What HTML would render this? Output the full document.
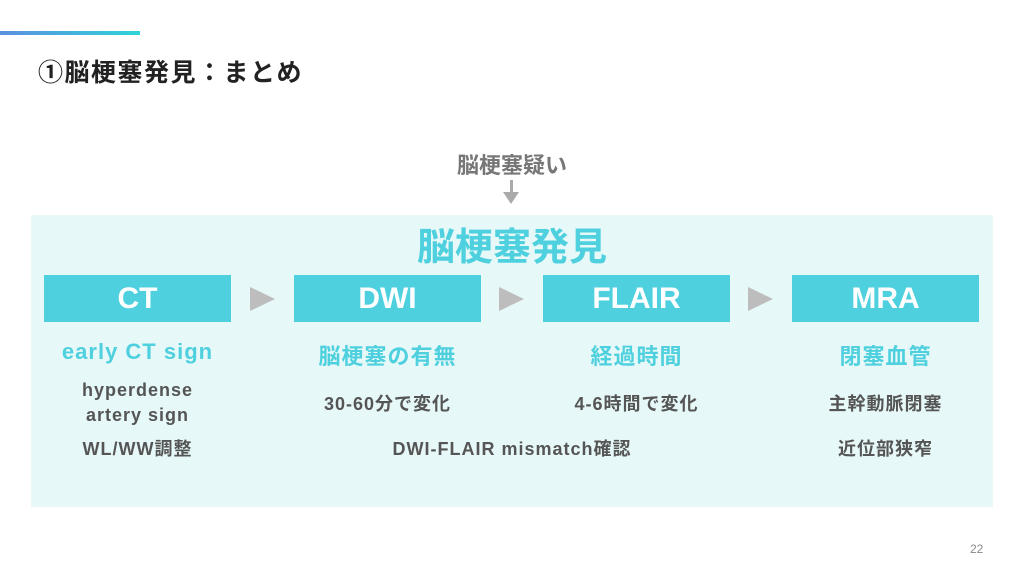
<!DOCTYPE html>
<html><head><meta charset="utf-8"><style>
body{margin:0;width:1024px;height:576px;background:#fff;position:relative;overflow:hidden;font-family:"Liberation Sans","Noto Sans CJK JP",sans-serif;}
.a{position:absolute}
.bar{left:0;top:31px;width:140px;height:4px;background:linear-gradient(90deg,#5b8fe0,#2fd4d8)}
.t{left:38px;top:53px;font-size:25px;font-weight:bold;color:#222;letter-spacing:1.5px}
.panel{left:31px;top:215px;width:962px;height:292px;background:#e6f8f8}
.box{top:275px;width:187px;height:47px;background:#4fd0de;color:#fff;font-size:30px;font-weight:bold;text-align:center;line-height:47px}
.tri{top:287px;width:0;height:0;border-top:12px solid transparent;border-bottom:12px solid transparent;border-left:25px solid #bdbdbd}
.h{top:339px;width:187px;text-align:center;color:#4fd0de;font-size:22px;font-weight:bold;letter-spacing:1px;white-space:nowrap}
.g{width:187px;text-align:center;color:#555;font-size:18px;font-weight:bold;line-height:25px;letter-spacing:1px;white-space:nowrap}
</style></head><body>
<div class="a bar"></div>
<div class="a t">①脳梗塞発見：まとめ</div>
<div class="a" style="left:0;width:1024px;top:148px;text-align:center;font-size:22px;font-weight:bold;color:#777">脳梗塞疑い</div>
<div class="a" style="left:510px;top:180px;width:3px;height:14px;background:#aaa"></div>
<div class="a" style="left:503px;top:192px;border-left:8px solid transparent;border-right:8px solid transparent;border-top:12px solid #aaa"></div>
<div class="a panel"></div>
<div class="a" style="left:0;width:1024px;top:216px;text-align:center;font-size:38px;font-weight:bold;color:#4fd0de">脳梗塞発見</div>
<div class="a box" style="left:44px">CT</div>
<div class="a box" style="left:294px">DWI</div>
<div class="a box" style="left:543px">FLAIR</div>
<div class="a box" style="left:792px">MRA</div>
<div class="a tri" style="left:250px"></div>
<div class="a tri" style="left:499px"></div>
<div class="a tri" style="left:748px"></div>
<div class="a h" style="left:44px">early CT sign</div>
<div class="a h" style="left:294px">脳梗塞の有無</div>
<div class="a h" style="left:543px">経過時間</div>
<div class="a h" style="left:792px">閉塞血管</div>
<div class="a g" style="left:44px;top:378px">hyperdense<br>artery sign</div>
<div class="a g" style="left:294px;top:392px">30-60分で変化</div>
<div class="a g" style="left:543px;top:392px">4-6時間で変化</div>
<div class="a g" style="left:792px;top:392px">主幹動脈閉塞</div>
<div class="a g" style="left:44px;top:437px">WL/WW調整</div>
<div class="a g" style="left:294px;top:437px;width:436px">DWI-FLAIR mismatch確認</div>
<div class="a g" style="left:792px;top:437px">近位部狭窄</div>
<div class="a" style="left:970px;top:542px;font-size:12px;color:#888">22</div>
</body></html>
